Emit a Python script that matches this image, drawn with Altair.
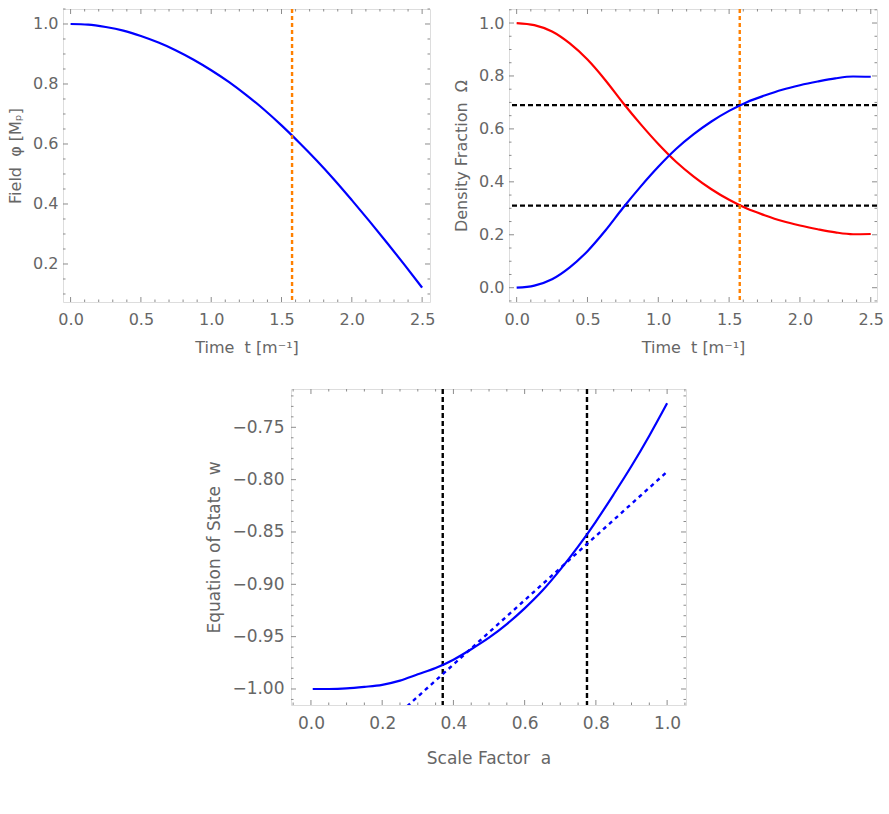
import altair as alt
import pandas as pd
import numpy as np

TXT = "#666666"
FRAME = "#8c8c8c"
FONT = "DejaVu Sans"

# ---------------- data ----------------
t_field = [0.0, 0.125, 0.25, 0.375, 0.5, 0.625, 0.75, 0.875, 1.0, 1.125, 1.25,
           1.375, 1.5, 1.625, 1.75, 1.875, 2.0, 2.125, 2.25, 2.375, 2.5]
phi_field = [1.000, 0.998, 0.990, 0.978, 0.960, 0.938, 0.912, 0.881, 0.846, 0.807, 0.763,
             0.715, 0.662, 0.605, 0.545, 0.481, 0.413, 0.343, 0.271, 0.197, 0.121]

t_omega = t_field
omega_matter = [1.000, 0.992, 0.968, 0.923, 0.862, 0.785, 0.699, 0.618, 0.543, 0.476, 0.420,
                0.372, 0.332, 0.299, 0.274, 0.252, 0.235, 0.221, 0.209, 0.202, 0.203]
omega_phi = [0.000, 0.008, 0.032, 0.077, 0.138, 0.215, 0.301, 0.382, 0.457, 0.524, 0.580,
             0.628, 0.668, 0.701, 0.726, 0.748, 0.765, 0.779, 0.791, 0.798, 0.797]

t_today = [1.575]
omega_today = [0.31, 0.69]

a_vals = [0.005, 0.05, 0.1, 0.15, 0.2, 0.25, 0.3, 0.35, 0.4, 0.45, 0.5,
          0.55, 0.6, 0.65, 0.7, 0.75, 0.8, 0.85, 0.9, 0.95, 1.0]
w_vals = [-1.000, -1.000, -0.9995, -0.998, -0.996, -0.992, -0.986, -0.980, -0.972, -0.962, -0.951,
          -0.938, -0.923, -0.906, -0.886, -0.864, -0.840, -0.814, -0.787, -0.758, -0.727]
a_lin = [0.27, 1.0]
w_lin = [-1.0165, -0.7924]
a_marks = [0.37, 0.775]

# tick labels
x_ticks_t = [0.0, 0.5, 1.0, 1.5, 2.0, 2.5]
y_ticks_phi = [0.2, 0.4, 0.6, 0.8, 1.0]
y_ticks_omega = [0.0, 0.2, 0.4, 0.6, 0.8, 1.0]
x_ticks_a = [0.0, 0.2, 0.4, 0.6, 0.8, 1.0]
y_ticks_w = [-1.0, -0.95, -0.9, -0.85, -0.8, -0.75]


def minor(lo, hi, step, majors):
    vals = np.round(np.arange(lo, hi + step / 2, step), 4)
    return [float(v) for v in vals if not any(abs(v - m) < 1e-6 for m in majors)]


x_minor_t = minor(0.0, 2.5, 0.1, x_ticks_t)
y_minor_phi = minor(0.1, 1.05, 0.05, y_ticks_phi)
y_minor_omega = minor(-0.05, 1.05, 0.05, y_ticks_omega)
x_minor_a = minor(-0.05, 1.05, 0.05, x_ticks_a)
y_minor_w = minor(-1.01, -0.72, 0.01, y_ticks_w)


def frame_ticks(xs, ys, xax, yax, w, h, xmaj, xmin, ymaj, ymin):
    layers = []
    for vals, L in ((xmaj, 5), (xmin, 2.5)):
        d = pd.DataFrame({"x": vals})
        for y0, y1 in ((h, h - L), (0, L)):
            layers.append(alt.Chart(d).mark_rule(color=FRAME, strokeWidth=1).encode(
                x=alt.X("x:Q", scale=xs, axis=xax), y=alt.value(y0), y2=alt.value(y1)))
    for vals, L in ((ymaj, 5), (ymin, 2.5)):
        d = pd.DataFrame({"y": vals})
        for x0, x1 in ((0, L), (w, w - L)):
            layers.append(alt.Chart(d).mark_rule(color=FRAME, strokeWidth=1).encode(
                y=alt.Y("y:Q", scale=ys, axis=yax), x=alt.value(x0), x2=alt.value(x1)))
    return layers


def axis(values, fmt, title, fs, lp, tp):
    return alt.Axis(values=values, format=fmt, title=title, labelFontSize=fs, titleFontSize=fs,
                    ticks=False, domain=False, grid=False, labelPadding=lp, titlePadding=tp,
                    labelColor=TXT, titleColor=TXT, labelFont=FONT, titleFont=FONT,
                    titleFontWeight="normal")


SP = "\u00a0 "

# ---------------- panel 1: field ----------------
W1, H1 = 367, 293
xs1 = alt.Scale(domain=[-0.054, 2.556], nice=False, zero=False)
ys1 = alt.Scale(domain=[0.0733, 1.05], nice=False, zero=False)
xa1 = axis(x_ticks_t, ".1f", "Time" + SP + "t [m⁻¹]", 16, 9, 12)
ya1 = axis(y_ticks_phi, ".1f", "Field" + SP + "φ [Mₚ]", 16, 5, 9)

df1 = pd.DataFrame({"t": t_field, "phi": phi_field})
p1_line = alt.Chart(df1).mark_line(color="#0000ff", strokeWidth=2.2, interpolate="monotone").encode(
    x=alt.X("t:Q", scale=xs1, axis=xa1), y=alt.Y("phi:Q", scale=ys1, axis=ya1))
p1_v = alt.Chart(pd.DataFrame({"t": t_today})).mark_rule(
    color="#ff8000", strokeWidth=2.4, strokeDash=[4, 3]).encode(
    x=alt.X("t:Q", scale=xs1, axis=xa1))
p1 = alt.layer(p1_line, p1_v,
               *frame_ticks(xs1, ys1, xa1, ya1, W1, H1, x_ticks_t, x_minor_t, y_ticks_phi, y_minor_phi)
               ).properties(width=W1, height=H1)

# ---------------- panel 2: density fractions ----------------
W2, H2 = 368, 293
xs2 = alt.Scale(domain=[-0.054, 2.544], nice=False, zero=False)
ys2 = alt.Scale(domain=[-0.054, 1.053], nice=False, zero=False)
xa2 = axis(x_ticks_t, ".1f", "Time" + SP + "t [m⁻¹]", 16, 9, 12)
ya2 = axis(y_ticks_omega, ".1f", "Density Fraction" + SP + "Ω", 16, 5, 9)

df2 = pd.DataFrame({"t": t_omega, "m": omega_matter, "p": omega_phi})
p2_red = alt.Chart(df2).mark_line(color="#ff0000", strokeWidth=2.2, interpolate="monotone").encode(
    x=alt.X("t:Q", scale=xs2, axis=xa2), y=alt.Y("m:Q", scale=ys2, axis=ya2))
p2_blue = alt.Chart(df2).mark_line(color="#0000ff", strokeWidth=2.2, interpolate="monotone").encode(
    x=alt.X("t:Q", scale=xs2, axis=xa2), y=alt.Y("p:Q", scale=ys2, axis=ya2))
p2_h = alt.Chart(pd.DataFrame({"o": omega_today})).mark_rule(
    color="#000000", strokeWidth=2.4, strokeDash=[5, 3]).encode(
    y=alt.Y("o:Q", scale=ys2, axis=ya2))
p2_v = alt.Chart(pd.DataFrame({"t": t_today})).mark_rule(
    color="#ff8000", strokeWidth=2.4, strokeDash=[4, 3]).encode(
    x=alt.X("t:Q", scale=xs2, axis=xa2))
p2 = alt.layer(p2_h, p2_red, p2_blue, p2_v,
               *frame_ticks(xs2, ys2, xa2, ya2, W2, H2, x_ticks_t, x_minor_t, y_ticks_omega, y_minor_omega)
               ).properties(width=W2, height=H2)

# ---------------- panel 3: equation of state ----------------
W3, H3 = 395, 316
xs3 = alt.Scale(domain=[-0.056, 1.053], nice=False, zero=False)
ys3 = alt.Scale(domain=[-1.0153, -0.7134], nice=False, zero=False)
xa3 = axis(x_ticks_a, ".1f", "Scale Factor" + SP + "a", 17, 10, 19)
ya3 = axis(y_ticks_w, ".2f", "Equation of State" + SP + "w", 17, 7, 8)

df3 = pd.DataFrame({"a": a_vals, "w": w_vals})
p3_line = alt.Chart(df3).mark_line(color="#0000ff", strokeWidth=2.2, interpolate="monotone").encode(
    x=alt.X("a:Q", scale=xs3, axis=xa3), y=alt.Y("w:Q", scale=ys3, axis=ya3))
p3_lin = alt.Chart(pd.DataFrame({"a": a_lin, "w": w_lin})).mark_line(
    color="#0000ff", strokeWidth=2.4, strokeDash=[4, 4], clip=True).encode(
    x=alt.X("a:Q", scale=xs3, axis=xa3), y=alt.Y("w:Q", scale=ys3, axis=ya3))
p3_v = alt.Chart(pd.DataFrame({"a": a_marks})).mark_rule(
    color="#000000", strokeWidth=2.4, strokeDash=[5, 3]).encode(
    x=alt.X("a:Q", scale=xs3, axis=xa3))
p3 = alt.layer(p3_v, p3_line, p3_lin,
               *frame_ticks(xs3, ys3, xa3, ya3, W3, H3, x_ticks_a, x_minor_a, y_ticks_w, y_minor_w)
               ).properties(width=W3, height=H3)

# invisible spacer that shifts the lower panel to the middle
spacer = alt.Chart(pd.DataFrame({"v": [0]})).mark_point(opacity=0).encode(
    x=alt.X("v:Q", axis=None)).properties(
    width=142, height=H3, view=alt.ViewBackground(strokeOpacity=0))

top = alt.hconcat(p1, p2, spacing=17)
bottom = alt.hconcat(spacer, p3, spacing=0)
chart = alt.vconcat(top, bottom, spacing=31).properties(
    padding={"left": 7, "top": 7, "right": 0, "bottom": 0}
).configure_view(stroke=FRAME, strokeWidth=1).configure(background="white")

chart.save("out.html", embed_options={"renderer": "svg", "actions": False})
